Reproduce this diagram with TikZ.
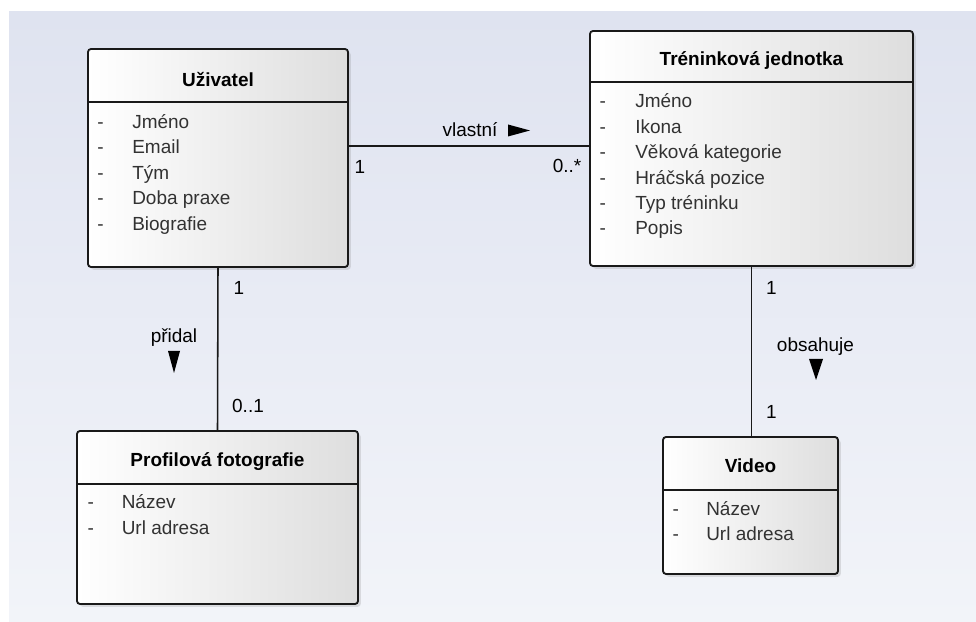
\documentclass[tikz,border=0pt]{standalone}
\usepackage{fontspec}
\setmainfont{Liberation Sans}
\usetikzlibrary{shadows}

\definecolor{canvastop}{RGB}{223,227,240}
\definecolor{canvasbot}{RGB}{242,244,249}
\definecolor{attrgray}{RGB}{50,50,50}

\begin{document}
\begin{tikzpicture}[
  x=0.025cm, y=-0.025cm,
  every node/.style={font=\fontsize{13.5}{16}\selectfont},
  classbox/.style={draw=black!90, line width=1.3pt, rounded corners=2.2pt, left color=white, right color=black!13,
    drop shadow={shadow xshift=2pt, shadow yshift=-2pt, opacity=0.22}, inner sep=0pt},
  classname/.style={anchor=base, inner sep=0pt, font=\fontsize{13.5}{16}\selectfont\bfseries},
  attr/.style={anchor=base west, inner sep=0pt, text=attrgray},
  bullet/.style={anchor=base, inner sep=0pt, text=attrgray},
  sepline/.style={draw=black!90, line width=1.3pt},
  assoc/.style={draw=black!90, line width=1.1pt},
  mult/.style={anchor=base, inner sep=0pt},
  dirmark/.style={fill=black}
]
  % canvas
  \useasboundingbox (0,0) rectangle (976,622);
  \shade[top color=canvastop, bottom color=canvasbot] (9,12) rectangle (976,622);

  % Uzivatel
  \node[classbox, minimum width=6.5cm, minimum height=5.45cm] (user) at (218,158) {};
  \node[classname] (user-name) at (218,86.5) {Uživatel};
  \draw[sepline] (88,102) -- (348,102);
  \foreach \a [count=\i from 0] in {Jméno, Email, Tým, Doba praxe, Biografie} {
    \node[bullet] (user-d\i) at (100.5, 128.3+\i*25.5) {-};
    \node[attr] (user-a\i) at (132, 128.3+\i*25.5) {\a};
  }

  % Treninkova jednotka
  \node[classbox, minimum width=8.075cm, minimum height=5.875cm] (unit) at (751.5,148.5) {};
  \node[classname] (unit-name) at (751.5,65.7) {Tréninková jednotka};
  \draw[sepline] (590,82) -- (913,82);
  \foreach \a [count=\i from 0] in {Jméno, Ikona, Věková kategorie, Hráčská pozice, Typ tréninku, Popis} {
    \node[bullet] (unit-d\i) at (602.7, 108+\i*25.4) {-};
    \node[attr] (unit-a\i) at (635, 108+\i*25.4) {\a};
  }

  % Profilova fotografie
  \node[classbox, minimum width=7.025cm, minimum height=4.325cm] (photo) at (217.5,517.5) {};
  \node[classname] (photo-name) at (217.5,467) {Profilová fotografie};
  \draw[sepline] (77,484) -- (358,484);
  \foreach \a [count=\i from 0] in {Název, Url adresa} {
    \node[bullet] (photo-d\i) at (90.7, 509+\i*25.7) {-};
    \node[attr] (photo-a\i) at (121.5, 509+\i*25.7) {\a};
  }

  % Video
  \node[classbox, minimum width=4.375cm, minimum height=3.425cm] (video) at (750.5,505.5) {};
  \node[classname] (video-name) at (750.5,472.7) {Video};
  \draw[sepline] (663,490) -- (838,490);
  \foreach \a [count=\i from 0] in {Název, Url adresa} {
    \node[bullet] (video-d\i) at (675.7, 515.7+\i*25) {-};
    \node[attr] (video-a\i) at (706, 515.7+\i*25) {\a};
  }

  % vlastni
  \path (user.east) ++(0,-12) coordinate (own-l);
  \draw[assoc] (own-l) -- (own-l -| unit.west);
  \node[mult] (own-lbl) at (470,136.7) {vlastní};
  \fill[dirmark] (508,124.5) -- (530,130.5) -- (508,136.5) -- cycle;
  \node[mult] (own-m1) at (360,173.3) {1};
  \node[mult] (own-m2) at (567,173) {0..*};

  % pridal
  \draw[assoc] (user.south) -- (photo.north);
  \node[mult] (add-lbl) at (174,343) {přidal};
  \fill[dirmark] (168,351) -- (180,351) -- (174,373) -- cycle;
  \node[mult] (add-m1) at (239,295) {1};
  \node[mult] (add-m2) at (248,413) {0..1};

  % obsahuje
  \draw[assoc] (unit.south) -- (unit.south |- video.north);
  \node[mult] (has-lbl) at (815.5,352) {obsahuje};
  \fill[dirmark] (809,359) -- (823,359) -- (816,380) -- cycle;
  \node[mult] (has-m1) at (771.5,295) {1};
  \node[mult] (has-m2) at (771.5,419) {1};

\end{tikzpicture}
\end{document}
